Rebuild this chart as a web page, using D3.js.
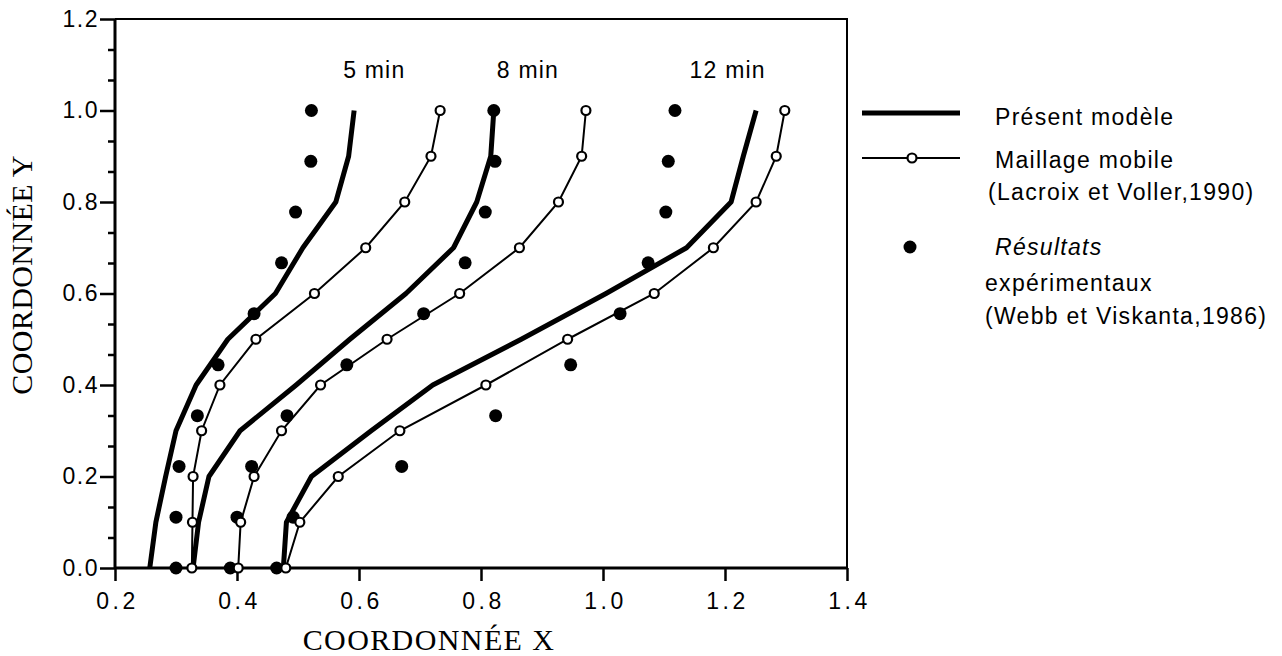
<!DOCTYPE html>
<html>
<head>
<meta charset="utf-8">
<script src="https://cdn.jsdelivr.net/npm/d3@7"></script>
<style>
  body { margin: 0; background: #fff; }
  svg { display: block; }
  .sans { font-family: "Liberation Sans", Arial, Helvetica, sans-serif; fill: #000; }
  .serif { font-family: "Liberation Serif", "Times New Roman", serif; fill: #000; }
</style>
</head>
<body>
<div id="chart"></div>
<script>
// Y levels used by each data set
const yModel = [0, 0.1, 0.2, 0.3, 0.4, 0.5, 0.6, 0.7, 0.8, 0.9, 1.0];
const yMesh = [0, 0.1, 0.2, 0.3, 0.4, 0.5, 0.6, 0.7, 0.8, 0.9, 1.0];
const yExp = [0, 0.111, 0.222, 0.333, 0.444, 0.556, 0.667, 0.778, 0.889, 1.0];

// Présent modèle (thick line), x at each y level
const model5 = [0.257, 0.267, 0.283, 0.300, 0.333, 0.385, 0.463, 0.508, 0.562, 0.583, 0.592];
const model8 = [0.328, 0.337, 0.354, 0.405, 0.497, 0.585, 0.677, 0.755, 0.793, 0.816, 0.821];
const model12 = [0.476, 0.481, 0.522, 0.620, 0.721, 0.866, 1.005, 1.137, 1.210, 1.230, 1.251];

// Maillage mobile (Lacroix et Voller, 1990)
const mesh5 = [0.326, 0.327, 0.328, 0.342, 0.372, 0.431, 0.527, 0.611, 0.675, 0.718, 0.733];
const mesh8 = [0.402, 0.406, 0.428, 0.473, 0.537, 0.646, 0.765, 0.863, 0.927, 0.965, 0.972];
const mesh12 = [0.480, 0.503, 0.566, 0.667, 0.808, 0.942, 1.084, 1.181, 1.251, 1.284, 1.298];

// Résultats expérimentaux (Webb et Viskanta, 1986)
const exp5 = [0.300, 0.300, 0.305, 0.335, 0.369, 0.428, 0.473, 0.496, 0.521, 0.522];
const exp8 = [0.389, 0.400, 0.424, 0.482, 0.580, 0.706, 0.774, 0.807, 0.823, 0.821];
const exp12 = [0.465, 0.492, 0.670, 0.824, 0.947, 1.028, 1.074, 1.103, 1.107, 1.118];

const timeLabels = ["5 min", "8 min", "12 min"];
const xTicks = [0.2, 0.4, 0.6, 0.8, 1.0, 1.2, 1.4];
const yTicks = [0.0, 0.2, 0.4, 0.6, 0.8, 1.0, 1.2];

const W = 1282, H = 656;
const margin = {top: 19, right: 435, bottom: 88, left: 115};

const svg = d3.select("#chart")
    .append("svg")
    .attr("width", W)
    .attr("height", H);

const x = d3.scaleLinear().domain([0.2, 1.4]).range([margin.left, W - margin.right]);
const y = d3.scaleLinear().domain([0, 1.2]).range([H - margin.bottom, margin.top]);

// Minor ticks on Y: three subdivisions per 0.2
const yMinor = d3.range(0, 1.2001, 0.2 / 3).filter(v => Math.abs(v / 0.2 - Math.round(v / 0.2)) > 0.01);

// Frame (top and right)
svg.append("path")
    .attr("d", `M${x(0.2)},${y(1.2)}H${x(1.4)}V${y(0)}`)
    .attr("fill", "none")
    .attr("stroke", "#000")
    .attr("stroke-width", 2);

// Y axis
const yAxis = svg.append("g")
    .attr("transform", `translate(${x(0.2)},0)`)
    .call(d3.axisLeft(y).tickValues(yTicks).tickSize(15).tickPadding(1).tickFormat(d3.format(".1f")));
svg.append("g")
    .attr("transform", `translate(${x(0.2)},0)`)
    .call(d3.axisLeft(y).tickValues(yMinor).tickSize(7).tickFormat(""))
    .call(g => g.select(".domain").remove());

// X axis
const xAxis = svg.append("g")
    .attr("transform", `translate(0,${y(0)})`)
    .call(d3.axisBottom(x).tickValues(xTicks).tickSize(13).tickPadding(12).tickFormat(d3.format(".1f")));

[xAxis, yAxis].forEach(g => {
    g.select(".domain").attr("stroke-width", 3).attr("d", g === xAxis
        ? `M${x(0.2)},0H${x(1.4)}`
        : `M0,${y(0)}V${y(1.2)}`);
});
svg.selectAll(".tick line").attr("stroke", "#000").attr("stroke-width", 2.5);
xAxis.selectAll("text")
    .attr("class", "sans")
    .attr("dx", "2px")
    .style("font-size", "23px")
    .style("letter-spacing", "3.5px")
    .attr("fill", "#000");
yAxis.selectAll("text")
    .attr("class", "sans")
    .style("font-size", "23px")
    .style("letter-spacing", "1.5px")
    .attr("fill", "#000");

// Axis titles
svg.append("text")
    .attr("class", "serif")
    .attr("x", 429)
    .attr("y", 650)
    .attr("text-anchor", "middle")
    .style("font-size", "30px")
    .style("letter-spacing", "1.4px")
    .text("COORDONNÉE X");

svg.append("text")
    .attr("class", "serif")
    .attr("transform", "translate(32,275) rotate(-90)")
    .attr("text-anchor", "middle")
    .style("font-size", "30px")
    .style("letter-spacing", "0.4px")
    .text("COORDONNÉE Y");

const plot = svg.append("g");

const line = d3.line()
    .x(d => x(d[0]))
    .y(d => y(d[1]));

// Présent modèle
[model5, model8, model12].forEach(xs => {
    plot.append("path")
        .datum(xs.map((v, i) => [v, yModel[i]]))
        .attr("d", line)
        .attr("fill", "none")
        .attr("stroke", "#000")
        .attr("stroke-width", 5)
        .attr("stroke-linejoin", "round")
        .attr("stroke-linecap", "butt");
});

// Experimental dots
[exp5, exp8, exp12].forEach(xs => {
    plot.append("g")
        .selectAll("circle")
        .data(xs.map((v, i) => [v, yExp[i]]))
        .join("circle")
        .attr("cx", d => x(d[0]))
        .attr("cy", d => y(d[1]))
        .attr("r", 6.5)
        .attr("fill", "#000");
});

// Maillage mobile
[mesh5, mesh8, mesh12].forEach(xs => {
    const pts = xs.map((v, i) => [v, yMesh[i]]);
    plot.append("path")
        .datum(pts)
        .attr("d", line)
        .attr("fill", "none")
        .attr("stroke", "#000")
        .attr("stroke-width", 2);
    plot.append("g")
        .selectAll("circle")
        .data(pts)
        .join("circle")
        .attr("cx", d => x(d[0]))
        .attr("cy", d => y(d[1]))
        .attr("r", 4.5)
        .attr("fill", "#fff")
        .attr("stroke", "#000")
        .attr("stroke-width", 2.2);
});

// Time labels
const labelX = [0.574, 0.826, 1.142];
svg.selectAll(".time-label")
    .data(timeLabels)
    .join("text")
    .attr("class", "sans time-label")
    .attr("x", (d, i) => x(labelX[i]))
    .attr("y", y(1.071))
    .style("font-size", "23px")
    .style("letter-spacing", "1.2px")
    .text(d => d);

// Legend
const legend = svg.append("g").attr("class", "legend");
legend.append("line")
    .attr("x1", 862).attr("x2", 960).attr("y1", 113).attr("y2", 113)
    .attr("stroke", "#000").attr("stroke-width", 5);
legend.append("line")
    .attr("x1", 862).attr("x2", 960).attr("y1", 158).attr("y2", 158)
    .attr("stroke", "#000").attr("stroke-width", 2);
legend.append("circle")
    .attr("cx", 912).attr("cy", 158).attr("r", 4.5)
    .attr("fill", "#fff").attr("stroke", "#000").attr("stroke-width", 2.2);
legend.append("circle")
    .attr("cx", 910).attr("cy", 247).attr("r", 6.5)
    .attr("fill", "#000");

const legendText = [
    {t: "Présent modèle", x: 995, y: 125, italic: false},
    {t: "Maillage mobile", x: 995, y: 168, italic: false},
    {t: "(Lacroix et Voller,1990)", x: 988, y: 200, italic: false},
    {t: "Résultats", x: 995, y: 255, italic: true},
    {t: "expérimentaux", x: 985, y: 291, italic: false},
    {t: "(Webb et Viskanta,1986)", x: 985, y: 324, italic: false}
];
legend.selectAll("text")
    .data(legendText)
    .join("text")
    .attr("class", "sans")
    .attr("x", d => d.x)
    .attr("y", d => d.y)
    .style("font-size", "23px")
    .style("letter-spacing", "1.3px")
    .style("font-style", d => d.italic ? "italic" : "normal")
    .text(d => d.t);
</script>
</body>
</html>
